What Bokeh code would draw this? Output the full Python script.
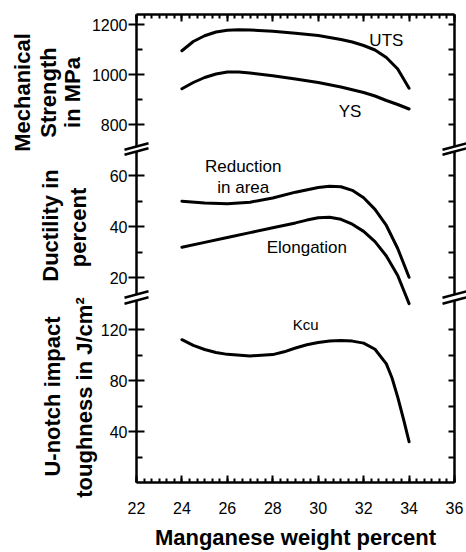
import math
from bokeh.plotting import figure
from bokeh.models import Range1d, LinearAxis, FixedTicker, SingleIntervalTicker
from bokeh.core.properties import value
from bokeh.layouts import column
from bokeh.embed import file_html
from bokeh.resources import INLINE

# ---------------- data ----------------
x_title = "Manganese weight percent"

uts_mn = [24, 24.5, 25, 25.5, 26, 26.5, 27, 28, 29, 30, 31, 31.5, 32, 32.5, 33, 33.5, 34]
uts = [1095, 1132, 1155, 1170, 1177, 1179, 1178, 1173, 1165, 1156, 1140, 1130, 1116, 1098, 1068, 1022, 945]

ys_mn = [24, 24.5, 25, 25.5, 26, 26.5, 27, 28, 29, 30, 31, 32, 32.5, 33, 33.5, 34]
ys = [943, 968, 988, 1002, 1010, 1010, 1006, 995, 982, 968, 950, 928, 914, 896, 880, 862]

ra_mn = [24, 25, 26, 27, 28, 29, 30, 30.5, 31, 31.5, 32, 32.5, 33, 33.5, 34]
ra = [50, 49.3, 49, 49.6, 51.2, 53.5, 55.3, 55.8, 55.6, 54.2, 51.3, 46.8, 40.5, 31.5, 20.3]

el_mn = [24, 25, 26, 27, 28, 29, 29.5, 30, 30.5, 31, 31.5, 32, 32.5, 33, 33.5, 34]
el = [32, 33.9, 35.8, 37.7, 39.6, 41.5, 42.6, 43.5, 43.7, 42.9, 41, 38.2, 34.2, 28.6, 21, 10]

kcu_mn = [24, 24.5, 25, 25.5, 26, 27, 28, 28.5, 29, 29.5, 30, 30.5, 31, 31.5, 32, 32.5, 33, 33.25, 33.5, 33.75, 34]
kcu = [112, 107.5, 104.3, 102, 100.5, 99.3, 100.3, 102.5, 105.5, 108, 109.8, 110.9, 111.3, 110.9, 109.3, 104.5, 93, 82, 67, 50, 32]

x_major = [22, 24, 26, 28, 30, 32, 34, 36]
mech_ticks = [800, 1000, 1200]
mech_minor = [900, 1100]
duct_ticks = [20, 40, 60]
duct_minor = [30, 50]
kcu_ticks = [40, 80, 120]
kcu_minor = [20, 60, 100]

# ---------------- layout constants ----------------
W = 466
FL, FR = 136, 454          # frame left / right (px)
XR = (22, 36)
FONT = "Liberation Sans"

panels = {
    "top": dict(rng=(712, 1240), canvas=(0, 151), frame=(14, 146)),
    "mid": dict(rng=(13.56, 69.37), canvas=(151, 297), frame=(151, 294)),
    "bot": dict(rng=(0, 142.75), canvas=(297, 552), frame=(300, 482)),
}


def xd(px):
    return XR[0] + (px - FL) * (XR[1] - XR[0]) / (FR - FL)


def yd(name, py):
    pn = panels[name]
    y0, y1 = pn["rng"]
    t, b = pn["frame"]
    return y0 + (b - py) * (y1 - y0) / (b - t)


def make_fig(name):
    pn = panels[name]
    c0, c1 = pn["canvas"]
    t, b = pn["frame"]
    p = figure(width=W, height=c1 - c0, x_range=Range1d(*XR), y_range=Range1d(*pn["rng"]),
               output_backend="svg", toolbar_location=None,
               x_axis_location=None, y_axis_location=None,
               min_border_left=FL, min_border_right=W - FR,
               min_border_top=t - c0, min_border_bottom=c1 - b)
    p.outline_line_color = None
    p.grid.visible = False
    p.background_fill_color = "white"
    p.border_fill_color = "white"
    return p


def style_axis(ax):
    ax.axis_line_width = 2.5
    ax.axis_line_color = "black"
    ax.major_tick_line_width = 2
    ax.minor_tick_line_width = 2
    ax.major_tick_line_color = "black"
    ax.minor_tick_line_color = "black"
    ax.major_label_text_font = FONT
    ax.major_label_text_font_size = "16px"
    ax.major_label_text_color = "black"


def add_y_axes(p, ticks, minor):
    left = LinearAxis(ticker=FixedTicker(ticks=ticks, minor_ticks=minor))
    style_axis(left)
    left.major_tick_in = 8
    left.major_tick_out = 8
    left.minor_tick_in = 6
    left.minor_tick_out = 0
    left.major_label_standoff = 1
    p.add_layout(left, "left")
    right = LinearAxis(ticker=FixedTicker(ticks=ticks, minor_ticks=minor))
    style_axis(right)
    right.major_tick_in = 6
    right.major_tick_out = 0
    right.minor_tick_in = 6
    right.minor_tick_out = 0
    right.major_label_overrides = {t: "" for t in ticks}
    right.major_label_standoff = 0
    p.add_layout(right, "right")


def x_axis(labels):
    ax = LinearAxis(ticker=SingleIntervalTicker(interval=2, num_minor_ticks=6))
    style_axis(ax)
    ax.major_tick_in = 7
    ax.major_tick_out = 0
    ax.minor_tick_in = 4
    ax.minor_tick_out = 0
    if labels:
        ax.major_label_standoff = 19
    else:
        ax.major_label_overrides = {t: "" for t in x_major}
        ax.major_label_standoff = 0
    return ax


LINE = dict(line_color="black", line_width=3, line_join="round", line_cap="round")


def note(p, xs, ys_, texts, size="17px", bold=False, angle=0.0):
    p.text(x=xs, y=ys_, text=texts, angle=angle, text_font=value(FONT),
           text_font_size=value(size), text_font_style="bold" if bold else "normal",
           text_color="black", text_align="center", text_baseline="middle",
           level="overlay")


# break marks: (axis px x, px y of stroke centre)
breaks = [(FL, 146), (FL, 151), (FR, 146), (FR, 151),
          (FL, 294), (FL, 300), (FR, 294), (FR, 300)]


def add_breaks(p, name):
    x0 = [xd(cx - 12) for cx, cy in breaks]
    x1 = [xd(cx + 12) for cx, cy in breaks]
    y0 = [yd(name, cy + 3.2) for cx, cy in breaks]
    y1 = [yd(name, cy - 3.2) for cx, cy in breaks]
    p.segment(x0, y0, x1, y1, line_color="black", line_width=2.5, level="overlay")


VERT = math.pi / 2

# ---------------- top panel: mechanical strength ----------------
p1 = make_fig("top")
p1.add_layout(x_axis(False), "above")
add_y_axes(p1, mech_ticks, mech_minor)
p1.line(uts_mn, uts, **LINE)
p1.line(ys_mn, ys, **LINE)
note(p1, [33.0, 31.4], [1136, 852], ["UTS", "YS"])
note(p1, [xd(22), xd(48), xd(72)], [yd("top", 92)] * 3,
     ["Mechanical", "Strength", "in MPa"], size="22px", bold=True, angle=VERT)
add_breaks(p1, "top")

# ---------------- middle panel: ductility ----------------
p2 = make_fig("mid")
add_y_axes(p2, duct_ticks, duct_minor)
p2.line(ra_mn, ra, **LINE)
p2.line(el_mn, el, level="overlay", **LINE)
note(p2, [26.7, 26.7, 29.5], [63.6, 55.2, 31.8], ["Reduction", "in area", "Elongation"])
note(p2, [xd(50), xd(78)], [yd("mid", 225), yd("mid", 227)],
     ["Ductility in", "percent"], size="22px", bold=True, angle=VERT)
add_breaks(p2, "mid")

# ---------------- bottom panel: impact toughness ----------------
p3 = make_fig("bot")
p3.add_layout(x_axis(True), "below")
add_y_axes(p3, kcu_ticks, kcu_minor)
p3.extra_y_ranges = {"duct": Range1d(yd("mid", 482), yd("mid", 300))}
p3.line(kcu_mn, kcu, **LINE)
p3.line(el_mn, el, y_range_name="duct", level="overlay", **LINE)
note(p3, [29.45], [123.7], ["Kcu"], size="15px")
note(p3, [xd(52), xd(84)], [yd("bot", 396), yd("bot", 397)],
     ["U-notch impact", "toughness in J/cm²"], size="22px", bold=True, angle=VERT)
note(p3, [xd(295)], [yd("bot", 537)], [x_title], size="22px", bold=True)
add_breaks(p3, "bot")

layout = column(p1, p2, p3)
open("out.html", "w").write(file_html(layout, INLINE))
